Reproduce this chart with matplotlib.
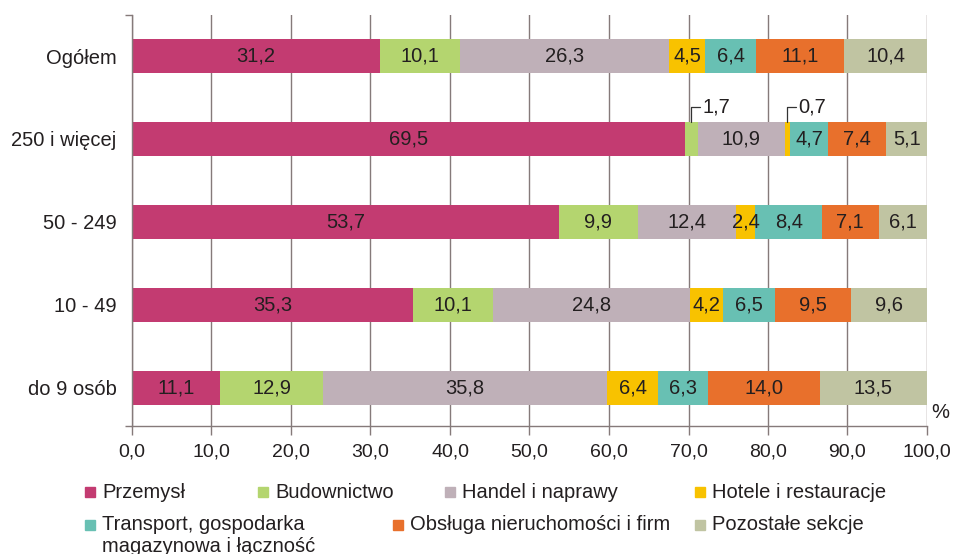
import matplotlib
matplotlib.use("Agg")
import matplotlib.pyplot as plt
from matplotlib.patches import Rectangle
import numpy as np

plt.rcParams['font.family'] = ['Liberation Sans', 'DejaVu Sans']

groups = ['do 9 osób', '10 - 49', '50 - 249', '250 i więcej', 'Ogółem']
sections = ['Przemysł', 'Budownictwo', 'Handel i naprawy', 'Hotele i restauracje',
            'Transport, gospodarka\nmagazynowa i łączność',
            'Obsługa nieruchomości i firm', 'Pozostałe sekcje']
colors = ['#C33B71', '#B4D56F', '#BFB0B8', '#F8C200', '#68C0B3', '#E8702C', '#C0C4A2']

# rows follow groups (bottom to top), columns follow sections
shares = np.array([
    [11.1, 12.9, 35.8, 6.4, 6.3, 14.0, 13.5],
    [35.3, 10.1, 24.8, 4.2, 6.5, 9.5, 9.6],
    [53.7, 9.9, 12.4, 2.4, 8.4, 7.1, 6.1],
    [69.5, 1.7, 10.9, 0.7, 4.7, 7.4, 5.1],
    [31.2, 10.1, 26.3, 4.5, 6.4, 11.1, 10.4],
])

x_ticks = np.arange(0, 101, 10)
grid_col = '#857a7a'
txt_col = '#231f20'
fs = 14.5

fig = plt.figure(figsize=(9.54, 5.54), dpi=100)
W, H = 954, 554
ax = fig.add_axes([132 / W, 1 - 426 / H, (927 - 132) / W, (426 - 15) / H])

y = np.arange(len(groups))
bar_h = 0.40
left = np.zeros(len(groups))
for j, sec in enumerate(sections):
    vals = shares[:, j]
    ax.barh(y, vals, left=left, height=bar_h, color=colors[j], zorder=2)
    for i, v in enumerate(vals):
        mid = left[i] + v / 2
        lab = f'{v:.1f}'.replace('.', ',')
        if v < 2:
            # small segments get a leader line
            ax.annotate(lab, xy=(mid, y[i] + bar_h / 2),
                        xytext=(8, 11), textcoords='offset points',
                        ha='left', va='center', fontsize=fs, color=txt_col,
                        arrowprops=dict(arrowstyle='-', color='#333333', lw=0.9,
                                        shrinkA=0, shrinkB=0, relpos=(0, 0.5),
                                        connectionstyle='angle,angleA=0,angleB=90,rad=0'))
        else:
            ax.text(mid, y[i], lab, ha='center', va='center',
                    fontsize=fs, color=txt_col, zorder=3)
    left = left + vals

ax.set_xlim(0, 100)
ax.set_ylim(-0.458, 4.494)
ax.set_xticks(x_ticks)
ax.set_xticklabels([f'{t:.1f}'.replace('.', ',') for t in x_ticks], fontsize=14, color=txt_col)
ax.set_yticks(y)
ax.set_yticklabels(groups, fontsize=fs, color=txt_col)
ax.tick_params(axis='y', length=0, pad=11)
ax.tick_params(axis='x', length=6.5, width=1, color=grid_col, pad=6)
ax.set_yticks([-0.458, 4.494], minor=True)
ax.tick_params(axis='y', which='minor', length=5, width=1, color=grid_col)
ax.grid(axis='x', color=grid_col, lw=1, zorder=0)
ax.set_axisbelow(True)
for s in ['top', 'right']:
    ax.spines[s].set_visible(False)
for s in ['left', 'bottom']:
    ax.spines[s].set_color(grid_col)
    ax.spines[s].set_linewidth(1)

fig.text(940 / W, 1 - 413 / H, '%', fontsize=fs, color=txt_col, ha='center', va='center')

# legend placed by hand to match the original layout
leg_pos = [(85, 492), (258, 492), (445, 492), (695, 492),
           (85, 525), (393, 525), (695, 525)]
for (px, py), sec, c in zip(leg_pos, sections, colors):
    fig.patches.append(Rectangle((px / W, 1 - (py + 5) / H), 10 / W, 10 / H,
                                 transform=fig.transFigure, color=c))
    for k, line in enumerate(sec.split('\n')):
        fig.text((px + 17) / W, 1 - (py + 21 * k) / H, line, fontsize=fs,
                 color=txt_col, ha='left', va='center')

fig.savefig('out.png', dpi=100)
